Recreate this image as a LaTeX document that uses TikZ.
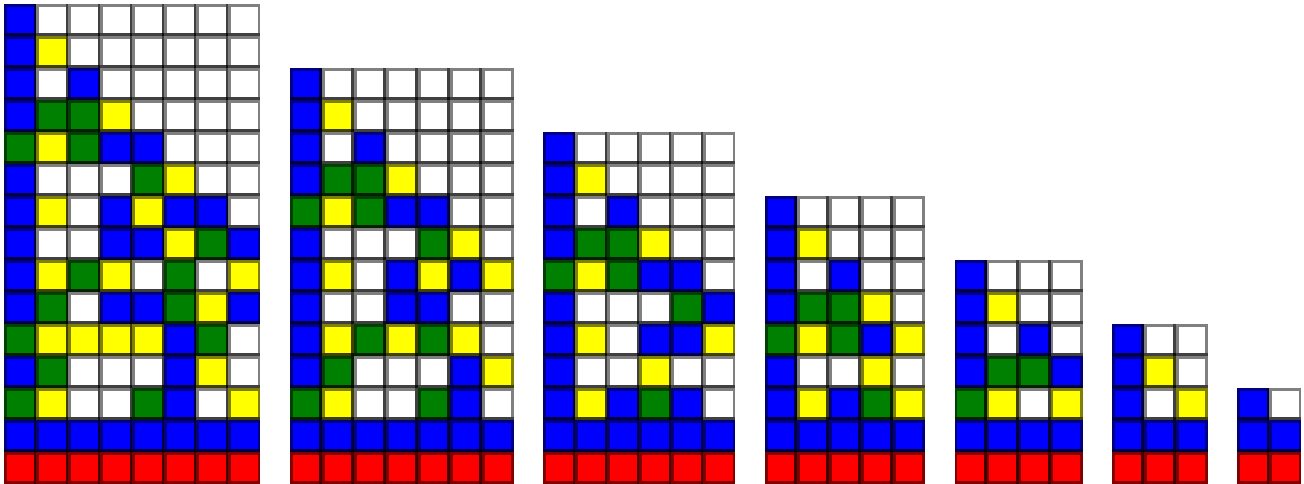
\documentclass[tikz,border=0pt]{standalone}
\colorlet{cB}{blue}
\colorlet{cW}{white}
\definecolor{cY}{RGB}{255,255,0}
\colorlet{cG}{green!50!black}
\colorlet{cR}{red}
\newcommand{\hw}{0.09}
\tikzset{
  edge/.style={draw=cur!50!black,line width=\hw cm}
}
\newcommand{\drawstack}[4]{%
  \foreach \cells [count=\j] in {#4} {
    \foreach \col [count=\i] in \cells {
      \colorlet{cur}{c\col}
      \pgfmathsetmacro\cx{#1+\i-1}
      \pgfmathsetmacro\cy{#2-\j}
      \fill[cur] (\cx,\cy) rectangle ++(1,1);
      \draw[edge] (\cx+\hw/2,\cy+\hw/2) rectangle (\cx+1-\hw/2,\cy+1-\hw/2);
      \ifnum\i<#3 \fill[cur!25!black] (\cx+1-\hw,\cy) rectangle (\cx+1,\cy+1); \fi
      \ifnum\j<#2 \fill[cur!25!black] (\cx,\cy) rectangle (\cx+1,\cy+\hw); \fi
      \ifnum\i<#3 \ifnum\j<#2 \fill[cur!6!black] (\cx+1-\hw,\cy) rectangle (\cx+1,\cy+\hw); \fi\fi
    }
  }
}
\begin{document}
\begin{tikzpicture}[x=1cm,y=1cm]
\useasboundingbox (-0.14,0) rectangle (40.61,15.125);
\drawstack{0}{15}{8}{{B,W,W,W,W,W,W,W},{B,Y,W,W,W,W,W,W},{B,W,B,W,W,W,W,W},
  {B,G,G,Y,W,W,W,W},{G,Y,G,B,B,W,W,W},{B,W,W,W,G,Y,W,W},{B,Y,W,B,Y,B,B,W},
  {B,W,W,B,B,Y,G,B},{B,Y,G,Y,W,G,W,Y},{B,G,W,B,B,G,Y,B},{G,Y,Y,Y,Y,B,G,W},
  {B,G,W,W,W,B,Y,W},{G,Y,W,W,G,B,W,Y},{B,B,B,B,B,B,B,B},{R,R,R,R,R,R,R,R}}
\drawstack{8.922}{13}{7}{{B,W,W,W,W,W,W},{B,Y,W,W,W,W,W},{B,W,B,W,W,W,W},
  {B,G,G,Y,W,W,W},{G,Y,G,B,B,W,W},{B,W,W,W,G,Y,W},{B,Y,W,B,Y,B,Y},
  {B,W,W,B,B,W,W},{B,Y,G,Y,G,Y,W},{B,G,W,W,W,B,Y},{G,Y,W,W,G,B,W},
  {B,B,B,B,B,B,B},{R,R,R,R,R,R,R}}
\drawstack{16.844}{11}{6}{{B,W,W,W,W,W},{B,Y,W,W,W,W},{B,W,B,W,W,W},
  {B,G,G,Y,W,W},{G,Y,G,B,B,W},{B,W,W,W,G,B},{B,Y,W,B,B,Y},
  {B,W,W,Y,W,W},{B,Y,B,G,B,W},{B,B,B,B,B,B},{R,R,R,R,R,R}}
\drawstack{23.766}{9}{5}{{B,W,W,W,W},{B,Y,W,W,W},{B,W,B,W,W},{B,G,G,Y,W},
  {G,Y,G,B,Y},{B,W,W,Y,W},{B,Y,B,G,Y},{B,B,B,B,B},{R,R,R,R,R}}
\drawstack{29.688}{7}{4}{{B,W,W,W},{B,Y,W,W},{B,W,B,W},{B,G,G,B},
  {G,Y,W,Y},{B,B,B,B},{R,R,R,R}}
\drawstack{34.609}{5}{3}{{B,W,W},{B,Y,W},{B,W,Y},{B,B,B},{R,R,R}}
\drawstack{38.531}{3}{2}{{B,W},{B,B},{R,R}}
\end{tikzpicture}
\end{document}
